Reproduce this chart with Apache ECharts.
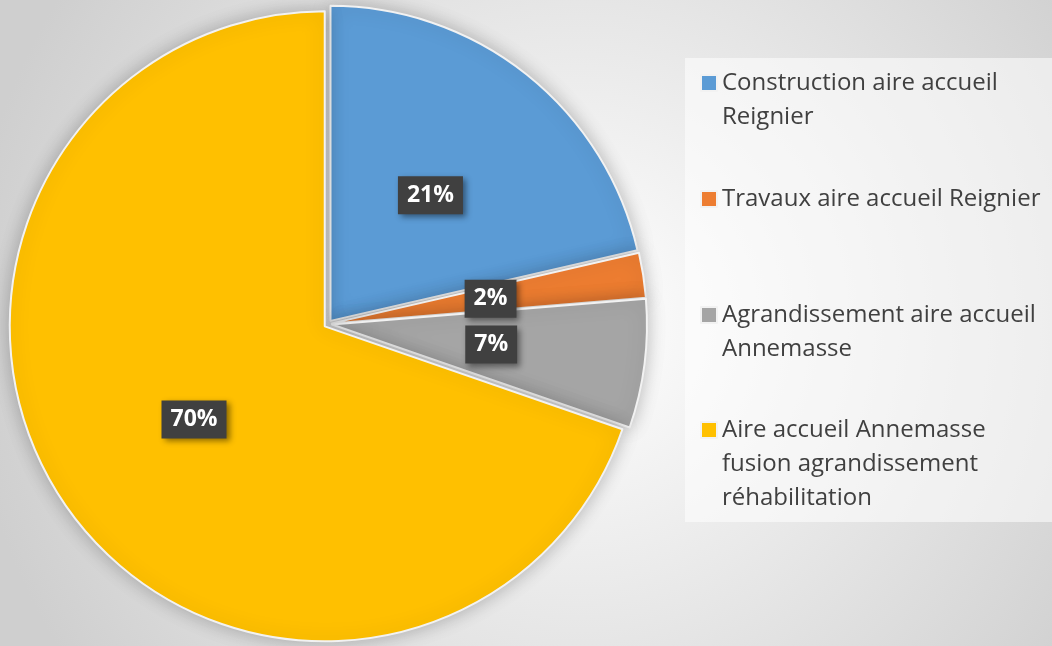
<!DOCTYPE html>
<html>
<head>
<meta charset="utf-8">
<script src="https://cdn.jsdelivr.net/npm/echarts@6/dist/echarts.min.js"></script>
<style>
  html, body { margin: 0; padding: 0; }
  #chart { width: 1052px; height: 646px; }
</style>
</head>
<body>
<div id="chart"></div>
<script>
// donnees du camembert
var names = [
  'Construction aire accueil Reignier',
  'Travaux aire accueil Reignier',
  'Agrandissement aire accueil Annemasse',
  'Aire accueil Annemasse fusion agrandissement réhabilitation'
];
var values = [21.4, 2.3, 6.6, 69.7];
// coupure des libelles de la legende
var legendLines = [
  ['Construction aire accueil', 'Reignier'],
  ['Travaux aire accueil Reignier'],
  ['Agrandissement aire accueil', 'Annemasse'],
  ['Aire accueil Annemasse', 'fusion agrandissement', 'réhabilitation']
];
var colors = ['#5B9BD5', '#ED7D31', '#A5A5A5', '#FFC000'];

var chart = echarts.init(document.getElementById('chart'), null, { renderer: 'canvas' });

var legendTops = [32, 182, 264, 345];
var legends = names.map(function (n, i) {
  return {
    data: [n],
    left: 700,
    top: legendTops[i],
    orient: 'vertical',
    padding: 0,
    icon: 'rect',
    itemWidth: 16,
    itemHeight: 16,
    selectedMode: false,
    textStyle: { fontFamily: 'Open Sans', fontSize: 24, color: '#404040', lineHeight: 34 },
    formatter: function (name) {
      var lines = legendLines[names.indexOf(name)];
      // lignes vides devant pour garder le carre sur la premiere ligne
      var pad = [];
      for (var k = 1; k < lines.length; k++) pad.push('');
      return pad.concat(lines).join('\n');
    }
  };
});

chart.setOption({
  backgroundColor: {
    type: 'radial', x: 0.55, y: 0.5, r: 0.95,
    colorStops: [
      { offset: 0, color: '#ffffff' },
      { offset: 1, color: '#cfcfcf' }
    ]
  },
  color: colors,
  graphic: [{
    type: 'rect',
    z: -1,
    shape: { x: 685, y: 58, width: 367, height: 464 },
    style: { fill: 'rgba(255,255,255,0.55)' }
  }],
  legend: legends,
  series: [{
    type: 'pie',
    center: [328, 324],
    radius: 315,
    startAngle: 90,
    clockwise: true,
    selectedMode: 'multiple',
    selectedOffset: 4,
    animation: false,
    itemStyle: {
      borderColor: '#f2f2f2',
      borderWidth: 2,
      shadowBlur: 18,
      shadowColor: 'rgba(0,0,0,0.25)'
    },
    select: { itemStyle: { borderColor: '#f2f2f2', borderWidth: 2 } },
    emphasis: { disabled: true },
    label: {
      show: true,
      position: 'inside',
      formatter: function (p) { return Math.round(p.percent) + '%'; },
      fontFamily: 'Open Sans',
      fontWeight: 'bold',
      fontSize: 23,
      color: '#ffffff',
      backgroundColor: '#404040',
      padding: [8, 9, 7, 9],
      shadowBlur: 6,
      shadowOffsetX: 3,
      shadowOffsetY: 3,
      shadowColor: 'rgba(0,0,0,0.45)'
    },
    labelLine: { show: false },
    data: names.map(function (n, i) {
      return { name: n, value: values[i], selected: true };
    })
  }]
});
</script>
</body>
</html>
